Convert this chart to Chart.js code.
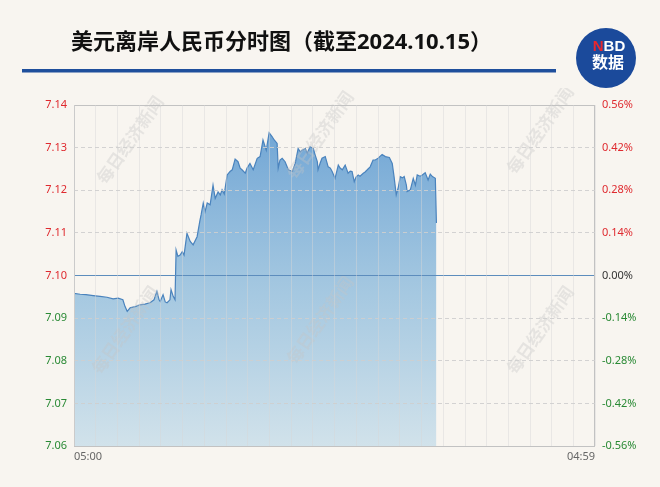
<!DOCTYPE html>
<html><head><meta charset="utf-8">
<script src="https://cdn.jsdelivr.net/npm/chart.js@4.4.1/dist/chart.umd.min.js"></script>
<style>html,body{margin:0;padding:0;background:#f8f5f0;}canvas{display:block}</style>
</head><body>
<canvas id="c" width="660" height="487"></canvas>
<script>
const titleText = '美元离岸人民币分时图（截至2024.10.15）';
const watermarkText = '每日经济新闻';
// minutes since 05:00
const minutes = [0,17,33,53,72,91,108,122,135,141,147,155,169,182,196,210,221,229,235,238,246,252,257,265,268,274,279,
282,287,293,299,304,312,321,329,340,348,351,357,362,368,376,384,390,398,404,409,415,423,431,437,445,453,459,464,473,478,486,495,
506,514,522,531,539,547,553,561,564,569,575,583,592,603,611,619,625,630,639,644,652,661,666,672,674,680,685,694,702,708,713,721,
730,735,741,749,757,763,768,774,779,785,790,799,804,810,818,826,832,840,846,851,860,871,879,884,890,896,901,907,912,918,920,929,
937,943,948,956,962,970,978,984,990,998,1001];
const prices = [7.0958,7.0956,7.0955,7.0953,7.0951,7.0949,7.0945,7.0947,7.0943,7.0927,7.0916,7.0924,7.0927,7.0931,7.0933,7.0936,7.0943,7.0963,7.0943,7.0939,7.0955,7.0938,7.0936,7.0943,7.0967,7.0951,7.0943,
7.1060,7.1045,7.1048,7.1056,7.1048,7.1099,7.1080,7.1072,7.1091,7.1130,7.1142,7.1170,7.1150,7.1170,7.1166,7.1212,7.1181,7.1196,7.1189,7.1201,7.1191,7.1236,7.1244,7.1248,7.1273,7.1267,7.1252,7.1248,7.1240,7.1252,7.1263,7.1248,
7.1275,7.1279,7.1318,7.1294,7.1335,7.1326,7.1318,7.1310,7.1252,7.1271,7.1275,7.1267,7.1248,7.1244,7.1263,7.1298,7.1290,7.1294,7.1298,7.1287,7.1302,7.1298,7.1283,7.1267,7.1248,7.1264,7.1275,7.1279,7.1255,7.1252,7.1244,7.1228,
7.1259,7.1252,7.1248,7.1259,7.1240,7.1245,7.1244,7.1220,7.1231,7.1236,7.1233,7.1240,7.1243,7.1248,7.1255,7.1271,7.1271,7.1275,7.1280,7.1284,7.1279,7.1277,7.1263,7.1232,7.1189,7.1208,7.1232,7.1229,7.1232,7.1212,7.1197,7.1201,
7.1228,7.1212,7.1236,7.1233,7.1236,7.1241,7.1224,7.1238,7.1232,7.1228,7.1123];
const priceTicks = [7.06,7.07,7.08,7.09,7.10,7.11,7.12,7.13,7.14];
const pctTicks = [-0.56,-0.42,-0.28,-0.14,0,0.14,0.28,0.42,0.56];
const hourTicks = [0,60,120,180,240,300,360,420,480,540,600,660,720,780,840,900,960,1020,1080,1140,1200,1260,1320,1380,1439];
const timeLabels = {0:'05:00',1439:'04:59'};
const baseline = 7.10;

const RED = '#df2a2f', GREEN = '#2a8a35';
const tickFont = {family:'"Noto Sans", "Open Sans", sans-serif', size:11};

const decor = {
  id:'decor',
  beforeDraw(chart){
    const c = chart.ctx;
    c.save(); c.fillStyle = '#f8f5f0'; c.fillRect(0,0,chart.width,chart.height); c.restore();
  },
  afterDatasetsDraw(chart){
    const c = chart.ctx, a = chart.chartArea;
    // watermarks
    c.save();
    c.beginPath(); c.rect(0,88,chart.width,chart.height-88); c.clip();
    c.font = 'bold 17px "Noto Sans CJK SC"';
    c.fillStyle = 'rgba(198,198,198,0.36)';
    c.textAlign = 'center'; c.textBaseline = 'middle';
    [[130,140],[320,135],[540,130],[125,330],[320,320],[540,330]].forEach(p=>{
      c.save(); c.translate(p[0],p[1]); c.rotate(-55*Math.PI/180); c.fillText(watermarkText,0,0); c.restore();
    });
    c.restore();
    // baseline over fill
    const yb = chart.scales.y.getPixelForValue(baseline);
    c.save(); c.strokeStyle = '#5d8dbd'; c.lineWidth = 1.2;
    c.beginPath(); c.moveTo(a.left, yb); c.lineTo(a.right, yb); c.stroke();
    // plot frame
    c.strokeStyle = '#c2c2c2'; c.lineWidth = 1;
    c.strokeRect(Math.round(a.left)+0.5, Math.round(a.top)+0.5, Math.round(a.right-a.left)-1, Math.round(a.bottom-a.top));
    c.restore();
  },
  afterDraw(chart){
    const c = chart.ctx;
    c.save();
    c.fillStyle = '#111';
    c.font = 'bold 22px "Noto Sans", "Noto Sans CJK SC"';
    c.textBaseline = 'middle'; c.textAlign = 'left';
    c.fillText(titleText, 71, 43);
    c.fillStyle = '#1f4f9c';
    c.fillRect(22, 69, 534, 3.5);
    // logo
    c.beginPath(); c.arc(606, 58, 30, 0, Math.PI*2); c.fillStyle = '#1b4a9b'; c.fill();
    c.font = 'bold 15px "Liberation Sans", Arial, sans-serif';
    c.textAlign = 'left';
    const wN = c.measureText('N').width, wBD = c.measureText('BD').width;
    const sx = 609 - (wN+wBD)/2;
    c.fillStyle = '#e8262c'; c.fillText('N', sx, 47);
    c.fillStyle = '#ffffff'; c.fillText('BD', sx+wN, 47);
    c.font = 'bold 16px "Noto Sans CJK SC"';
    c.textAlign = 'center';
    c.fillText('数据', 608, 62);
    c.restore();
  }
};

const ctx = document.getElementById('c').getContext('2d');
new Chart(ctx, {
  type:'line',
  data:{
    datasets:[{
      data: minutes.map((m,i)=>({x:m, y:prices[i]})),
      borderColor:'#4a83bd',
      borderWidth:1.2,
      pointRadius:0,
      tension:0,
      fill:'start',
      backgroundColor(context){
        const a = context.chart.chartArea;
        if(!a) return 'rgba(120,170,210,0.7)';
        const g = context.chart.ctx.createLinearGradient(0,a.top+30,0,a.bottom);
        g.addColorStop(0,'rgba(108,163,212,0.95)');
        g.addColorStop(0.5,'rgba(150,192,222,0.85)');
        g.addColorStop(1,'rgba(205,224,234,0.9)');
        return g;
      }
    }]
  },
  options:{
    responsive:false,
    animation:false,
    devicePixelRatio:1,
    layout:{padding:{top:105,left:0,right:0,bottom:0}},
    plugins:{legend:{display:false},tooltip:{enabled:false}},
    scales:{
      x:{
        type:'linear', min:0, max:1439,
        afterBuildTicks(s){ s.ticks = hourTicks.map(v=>({value:v})); },
        afterFit(s){ s.height = 41; },
        grid:{color:'rgba(214,214,214,0.45)', drawTicks:false, z:1},
        border:{display:false},
        ticks:{autoSkip:false, maxRotation:0, align:'inner', padding:4, color:'#666', font:tickFont,
          callback:(v)=> timeLabels[v] !== undefined ? timeLabels[v] : ''}
      },
      y:{
        position:'left', min:7.06, max:7.14,
        afterBuildTicks(s){ s.ticks = priceTicks.map(v=>({value:v})); },
        afterFit(s){ s.width = 74; },
        grid:{drawTicks:false, z:1,
          color:(c)=> (c.tick && (Math.abs(c.tick.value-7.14)<1e-6 || Math.abs(c.tick.value-7.06)<1e-6 || Math.abs(c.tick.value-baseline)<1e-6)) ? 'rgba(0,0,0,0)' : 'rgba(206,206,206,0.9)'},
        border:{display:false, dash:[4,3]},
        ticks:{padding:7, font:tickFont,
          color:(c)=> c.tick.value >= baseline-1e-6 ? RED : GREEN,
          callback:(v)=> v.toFixed(2)}
      },
      y1:{
        position:'right', min:-0.56, max:0.56,
        afterBuildTicks(s){ s.ticks = pctTicks.map(v=>({value:v})); },
        afterFit(s){ s.width = 65; },
        grid:{display:false, drawTicks:false},
        border:{display:false},
        ticks:{padding:7, font:tickFont,
          color:(c)=> Math.abs(c.tick.value)<1e-6 ? '#333' : (c.tick.value>0 ? RED : GREEN),
          callback:(v)=> v.toFixed(2)+'%'}
      }
    }
  },
  plugins:[decor]
});
</script>
</body></html>
